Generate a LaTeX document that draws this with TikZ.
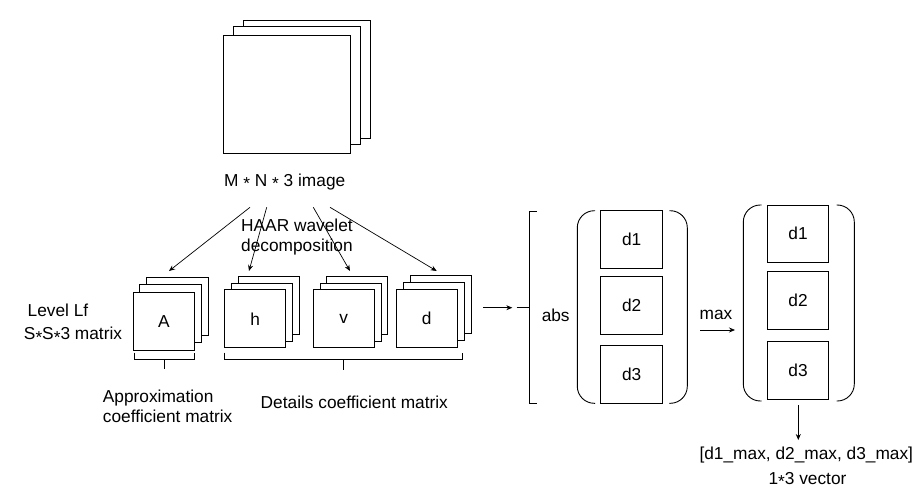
\documentclass[tikz,border=0pt]{standalone}
\usepackage{fontspec}
\setmainfont{Liberation Sans}
\usetikzlibrary{arrows.meta}
\newcommand{\st}{\raisebox{-0.4ex}{*}}
\begin{document}
\begin{tikzpicture}[x=1pt,y=-1pt,
  every node/.style={font=\fontsize{17.3}{20}\selectfont, inner sep=0pt},
  sq/.style={draw, fill=white, line width=0.9pt, minimum width=61pt, minimum height=58pt},
  big/.style={draw, fill=white, line width=0.9pt, minimum width=127pt, minimum height=118pt},
  cell/.style={draw, line width=0.9pt, minimum width=62pt, minimum height=57.5pt},
  brk/.style={line width=0.8pt},
  par/.style={line width=0.9pt, rounded corners=17pt},
  arr/.style={line width=0.7pt, -{Stealth[length=6pt,width=5pt]}},
  lbl/.style={align=left}
]
\useasboundingbox (0,0) rectangle (919,501);
% big image stack
\node[big] (img3) at (306.8,79) {};
\node[big] (img2) at (296.8,85.8) {};
\node[big] (img1) at (286.7,94.2) {};
\node (imgt) at (284.7,181.7) {M \st{} N \st{} 3 image};
% A stack
\node[sq, minimum width=62.7pt] (A3) at (177.3,306.3) {};
\node[sq, minimum width=61.7pt] (A2) at (170.2,313.5) {};
\node[sq, minimum width=60.3pt] (A1) at (163.8,321.2) {A};
% h stack
\node[sq] (h3) at (268.8,305.2) {};
\node[sq] (h2) at (261.7,312.2) {};
\node[sq] (h1) at (255.2,318.9) {h};
% v stack
\node[sq] (v3) at (357.2,305.2) {};
\node[sq] (v2) at (350.5,312.2) {};
\node[sq] (v1) at (343.8,318.9) {v};
% d stack
\node[sq] (d3) at (440.8,304.2) {};
\node[sq] (d2) at (433.8,311.2) {};
\node[sq] (d1) at (426.8,318.0) {d};
% labels left
\node (lev) at (58,310) {Level Lf};
\node (ssm) at (73,335) {S\st{}S\st{}3 matrix};
\node[lbl, anchor=west] (haar) at (241,236.7) {HAAR wavelet\\decomposition};
\node[lbl, anchor=west] (appr) at (102.7,406.7) {Approximation\\coefficient matrix};
\node (det) at (354.3,402.7) {Details coefficient matrix};
% arrows from image
\coordinate (s1) at (250,207.3);
\coordinate (s2) at (266.7,207.3);
\coordinate (s3) at (313.3,207.3);
\coordinate (s4) at (330,207.3);
\coordinate (e1) at (169,271);
\coordinate (e2) at (249,271);
\coordinate (e3) at (350,271);
\coordinate (e4) at (436.7,271);
\draw[arr] (s1) -- (e1);
\draw[arr] (s2) -- (e2);
\draw[arr] (s3) -- (e3);
\draw[arr] (s4) -- (e4);
% under-brackets
\draw[brk] (134,352.7) -- (134,359.3) -- (194,359.3) -- (194,352.7);
\draw[brk] (164,359.3) -- (164,369.3);
\draw[brk] (224.3,352.7) -- (224.3,359.3) -- (462.3,359.3) -- (462.3,352.7);
\draw[brk] (343.3,359.3) -- (343.3,370);
% arrow to abs bracket
\coordinate (a0) at (483.3,307.7);
\coordinate (a1) at (512.3,307.7);
\draw[arr] (a0) -- (a1);
\draw[brk] (536.7,211.7) -- (529.3,211.7) -- (529.3,403.3) -- (536.7,403.3);
\draw[brk] (516.7,307.7) -- (529.3,307.7);
\node (abs) at (555.7,315) {abs};
% first column
\node[cell] (c1) at (631.7,239.4) {d1};
\node[cell] (c2) at (631.7,305.4) {d2};
\node[cell] (c3) at (631.7,374.3) {d3};
\draw[par] (595,210.7) -- (577.3,210.7) -- (577.3,403.3) -- (595,403.3);
\draw[par] (669.3,210.7) -- (687.3,210.7) -- (687.3,403.3) -- (669.3,403.3);
% max arrow
\node (max) at (716,315) {max};
\coordinate (m0) at (700,330);
\coordinate (m1) at (735,330);
\draw[arr] (m0) -- (m1);
% second column
\node[cell, minimum width=60.6pt] (k1) at (798,233.8) {d1};
\node[cell, minimum width=60.6pt] (k2) at (798,300.5) {d2};
\node[cell, minimum width=60.6pt] (k3) at (798,370.5) {d3};
\draw[par] (761.7,205) -- (743.3,205) -- (743.3,401) -- (761.7,401);
\draw[par] (836.7,205) -- (854.3,205) -- (854.3,401) -- (836.7,401);
% output
\coordinate (o0) at (798.3,405);
\coordinate (o1) at (798.3,440);
\draw[arr] (o0) -- (o1);
\node (vec) at (806.3,455) {[d1\_max, d2\_max, d3\_max]};
\node (vlab) at (807.5,480) {1\st{}3 vector};
\end{tikzpicture}
\end{document}
